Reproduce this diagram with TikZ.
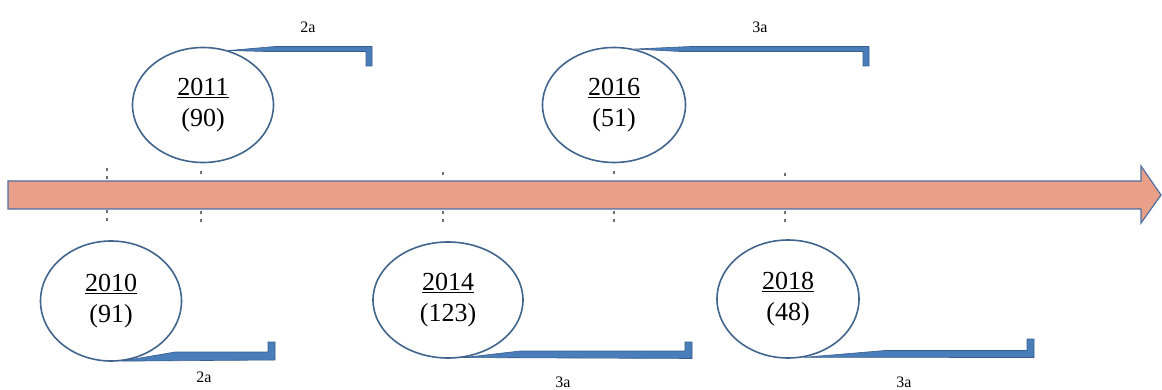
\documentclass[tikz,border=0pt]{standalone}
\usepackage{fontspec}
\setmainfont{Liberation Serif}
\usetikzlibrary{shapes.geometric}
\definecolor{arrowfill}{RGB}{234,160,136}
\definecolor{arrowline}{RGB}{80,110,160}
\definecolor{ellline}{RGB}{65,100,140}
\definecolor{brfill}{RGB}{74,126,187}
\definecolor{brline}{RGB}{56,93,138}
\definecolor{tickcol}{RGB}{110,110,110}
\tikzset{
  yearnode/.style={ellipse, draw=ellline, line width=1.6pt, inner sep=0pt,
    align=center, font=\fontsize{26}{31}\selectfont},
  bracketshape/.style={fill=brfill, draw=brline, line width=0.6pt, line join=round},
  gaplabel/.style={font=\fontsize{16}{18}\selectfont, inner sep=0pt},
  tickmark/.style={draw=tickcol, line width=2.8pt, dash pattern=on 2.8pt off 5pt}
}
\begin{document}
\begin{tikzpicture}[x=1pt,y=-1pt]
\useasboundingbox (0,0) rectangle (1162,390);
% timeline arrow
\draw[fill=arrowfill, draw=arrowline, line width=1.2pt, line join=miter]
  (8,181) -- (1141,181) -- (1141,166) -- (1161,195) -- (1141,223) -- (1141,209) -- (8,209) -- cycle;
% tick marks
\draw[tickmark] (107,168) -- (107,181);
\draw[tickmark] (107,210) -- (107,223);
\draw[tickmark] (201,171) -- (201,176);
\draw[tickmark] (201,211) -- (201,224);
\draw[tickmark] (443,172) -- (443,177);
\draw[tickmark] (443,211) -- (443,224);
\draw[tickmark] (614,171) -- (614,176);
\draw[tickmark] (614,211) -- (614,224);
\draw[tickmark] (785,173) -- (785,178);
\draw[tickmark] (785,211) -- (785,224);
% year ellipses
\node[yearnode, minimum width=141pt, minimum height=115pt] (e2011) at (203,105) {\underline{2011}\\(90)};
\node[yearnode, minimum width=143pt, minimum height=115pt] (e2016) at (614,105) {\underline{2016}\\(51)};
\node[yearnode, minimum width=141pt, minimum height=120pt] (e2010) at (111,301) {\underline{2010}\\(91)};
\node[yearnode, minimum width=150pt, minimum height=116pt] (e2014) at (448,300) {\underline{2014}\\(123)};
\node[yearnode, minimum width=142pt, minimum height=118pt] (e2018) at (788,299) {\underline{2018}\\(48)};
% brackets
\draw[bracketshape] (e2011.65) -- (275,46.5) -- (372,46.5) -- (372,66) -- (366,66) -- (366,51.5) -- (265,51.5) -- cycle;
\draw[bracketshape] (e2016.70) -- (690,46.5) -- (869,46.5) -- (869,66) -- (863,66) -- (863,51.5) -- (680,51.5) -- cycle;
\draw[bracketshape] (e2010.-80) -- (175,352) -- (268,352) -- (268,342) -- (275,342) -- (275,360) -- cycle;
\draw[bracketshape] (e2014.-75) -- (520,351) -- (685,351) -- (685,342) -- (692,342) -- (692,358.5) -- cycle;
\draw[bracketshape] (e2018.-75) -- (885,350.5) -- (1027,350.5) -- (1027,339) -- (1034,339) -- (1034,357.5) -- cycle;
% gap labels
\node[gaplabel] (l2011) at (308,27) {2a};
\node[gaplabel] (l2016) at (760,27) {3a};
\node[gaplabel] (l2010) at (204,377) {2a};
\node[gaplabel] (l2014) at (563,382) {3a};
\node[gaplabel] (l2018) at (904,382) {3a};
\end{tikzpicture}
\end{document}
